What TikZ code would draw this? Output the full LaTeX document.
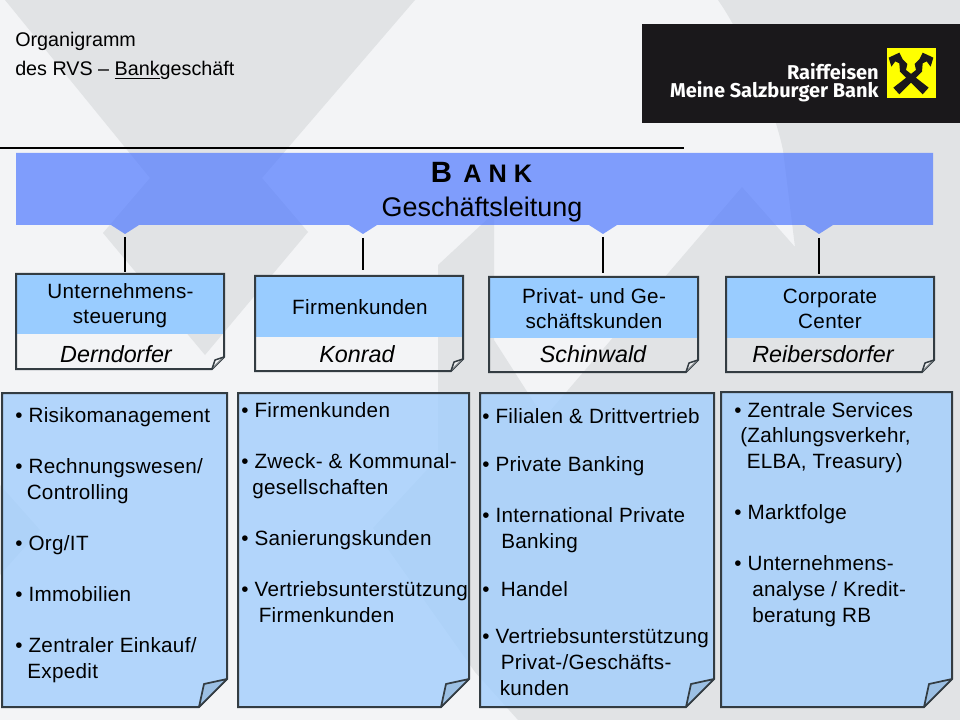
\documentclass[tikz,border=0pt]{standalone}
\usepackage{fontspec}
\setmainfont{Liberation Sans}
\newfontfamily\spacedsans[LetterSpace=1.5]{Liberation Sans}
\newfontfamily\logofont{Fira Sans}
\usetikzlibrary{fit}
\definecolor{bglight}{HTML}{F3F4F6}
\definecolor{bggrey}{HTML}{E1E3E5}
\definecolor{bannerblue}{HTML}{4F79FF}
\definecolor{headblue}{HTML}{99CCFF}
\definecolor{listblue}{HTML}{A2CEFD}
\definecolor{edgecol}{HTML}{333C42}
\definecolor{foldblue}{HTML}{9CC0E4}
\definecolor{logoblack}{HTML}{1A181B}
\definecolor{logoyellow}{HTML}{FFFF00}
\tikzset{
  bgshape/.style={fill=bggrey,draw=none},
  boxedge/.style={draw=edgecol,line width=1.5pt,line join=miter},
  bodyline/.style={anchor=base west,inner sep=0pt,font=\spacedsans\fontsize{15.5}{18}\selectfont,text=black},
  headline/.style={anchor=base,inner sep=0pt,font=\spacedsans\fontsize{15.5}{18}\selectfont,text=black},
  nameline/.style={anchor=base,inner sep=0pt,font=\itshape\fontsize{17.5}{20}\selectfont,text=black},
  conn/.style={draw=black,line width=1.5pt},
  logotext/.style={anchor=base east,inner sep=0pt,text=white,font=\logofont\bfseries\fontsize{15}{18}\selectfont},
  pagetext/.style={anchor=base west,inner sep=0pt,font=\fontsize{14.8}{18}\selectfont,text=black}
}
\newcounter{tl}
\newcommand{\bodytext}[3]{\stepcounter{tl}\node[bodyline] (L\arabic{tl}) at (#1,#2) {#3};}
\newcommand{\headtext}[3]{\stepcounter{tl}\node[headline] (L\arabic{tl}) at (#1,#2) {#3};}
\newcommand{\nametext}[3]{\stepcounter{tl}\node[nameline] (L\arabic{tl}) at (#1,#2) {#3};}
% name x0 y0 x1 y1 ysplit
\newcommand{\headbox}[6]{%
  \fill[headblue] (#2,#3) rectangle (#4,#6);
  \coordinate (#1nw) at (#2,#3); \coordinate (#1se) at (#4,#5);
  \node[fit=(#1nw)(#1se),inner sep=0pt] (#1) {};
  \draw[boxedge] (#2,#3) -- (#4,#3) -- (#4,#5-12) -- (#4-12,#5) -- (#2,#5) -- cycle;
  \draw[draw=edgecol,line width=1.1pt,fill=white,fill opacity=.45,line join=round] (#4,#5-12) -- (#4-9,#5-9) -- (#4-12,#5);
}
% name x0 y0 x1 y1
\newcommand{\listbox}[5]{%
  \coordinate (#1nw) at (#2,#3); \coordinate (#1se) at (#4,#5);
  \node[fit=(#1nw)(#1se),inner sep=0pt] (#1) {};
  \fill[listblue,fill opacity=.8] (#2,#3) -- (#4,#3) -- (#4,#5-28) -- (#4-28,#5) -- (#2,#5) -- cycle;
  \draw[boxedge] (#2,#3) -- (#4,#3) -- (#4,#5-28) -- (#4-28,#5) -- (#2,#5) -- cycle;
  \draw[draw=edgecol,line width=1.3pt,fill=foldblue,line join=round] (#4,#5-28) -- (#4-23,#5-23) -- (#4-28,#5) -- cycle;
}
\begin{document}
\begin{tikzpicture}[x=0.75pt,y=-0.75pt]
\useasboundingbox (0,0) rectangle (960,720);
% background
\fill[bglight] (0,0) rectangle (960,720);
\fill[bgshape] (5,0) -- (150,178) -- (103,233) -- (205,355) -- (308,232) -- (262,178) -- (415,0) -- cycle;
\fill[bgshape] (0,485) -- (40,530) -- (0,575) -- cycle;
\fill[bgshape] (718,0) .. controls (735,24) and (770,90) .. (783,150) -- (795,247) -- (742,187)
  -- (544,418) -- (494,340) -- (494,213) -- (438,265) -- (438,458) -- (373,528) -- (475,672) -- (518,720)
  -- (960,720) -- (960,0) -- cycle;
% logo
\fill[logoblack] (642,24) rectangle (960,123);
\node[logotext] (logoa) at (879,80) {Raiffeisen};
\node[logotext] (logob) at (879,98) {Meine Salzburger Bank};
\fill[logoyellow] (887,48) rectangle (936,98.5);
\begin{scope}[shift={(880,42)},x=0.25pt,y=-0.25pt]
  \fill[logoblack] (40,137) -- (58,157) -- (126,89) -- (128,64) -- (140,58) -- (152,74) -- (160,47) -- (128,32)
    -- (118,52) -- (104,66) -- (108,84) -- cycle;
  \fill[logoblack] (146,137) -- (128,157) -- (60,89) -- (58,64) -- (46,58) -- (34,74) -- (26,47) -- (58,32)
    -- (68,52) -- (82,66) -- (78,84) -- cycle;
\end{scope}
% page heading
\node[pagetext] (orga) at (15,46.5) {Organigramm};
\node[pagetext] (orgb) at (15,76) {des RVS -- \underline{Bank}geschäft};
\coordinate (rulea) at (0,147.8);
\coordinate (ruleb) at (684,147.8);
\draw[line width=1.9pt,draw=black] (rulea) -- (ruleb);
% banner
\coordinate (tipa) at (125,234);
\coordinate (tipb) at (363,234);
\coordinate (tipc) at (603,234);
\coordinate (tipd) at (819,234);
\fill[bannerblue,fill opacity=.7] (16,153) -- (933,153) -- (933,225)
  -- (833,225) -- (tipd) -- (805,225)
  -- (617,225) -- (tipc) -- (589,225)
  -- (377,225) -- (tipb) -- (349,225)
  -- (139,225) -- (tipa) -- (111,225)
  -- (16,225) -- cycle;
\node[anchor=base west,inner sep=0pt,font=\bfseries\fontsize{22}{24}\selectfont] (titleb) at (430.5,183) {B};
\node[anchor=base west,inner sep=0pt,font=\bfseries\fontsize{19}{20}\selectfont] (titlea) at (463,183) {A N K};
\node[anchor=base,inner sep=0pt,font=\fontsize{20.2}{24}\selectfont] (titlec) at (482,216.5) {Geschäftsleitung};
% header boxes
\headbox{ha}{16}{274}{224}{369}{334}
\headbox{hb}{255}{276}{463}{371}{337}
\headbox{hc}{489}{277}{698}{372}{338}
\headbox{hd}{726}{277}{934}{372}{338}
% connectors
\draw[conn,shorten <=2.25pt,shorten >=1.5pt] (tipa) -- (tipa |- ha.north);
\draw[conn,shorten <=3pt,shorten >=4.5pt] (tipb) -- (tipb |- hb.north);
\draw[conn,shorten <=2.25pt,shorten >=3pt] (tipc) -- (tipc |- hc.north);
\draw[conn,shorten <=3pt,shorten >=2.25pt] (tipd) -- (tipd |- hd.north);
% header text
\headtext{120.5}{299}{Unternehmens-}
\headtext{120}{324}{steuerung}
\nametext{116}{362}{Derndorfer}
\headtext{360}{315}{Firmenkunden}
\nametext{357}{362}{Konrad}
\headtext{594}{303}{Privat- und Ge-}
\headtext{594}{328}{schäftskunden}
\nametext{593}{362}{Schinwald}
\headtext{830}{303}{Corporate}
\headtext{830}{328}{Center}
\nametext{823}{362}{Reibersdorfer}
% list boxes
\listbox{ba}{2}{393}{227}{707}
\listbox{bb}{238}{393}{469}{707}
\listbox{bc}{480}{393}{714}{707}
\listbox{bd}{721}{392}{952}{707}
\bodytext{15}{422}{• Risikomanagement}
\bodytext{15}{473}{• Rechnungswesen/}
\bodytext{26.5}{499}{Controlling}
\bodytext{15}{550}{• Org/IT}
\bodytext{15}{601}{• Immobilien}
\bodytext{15}{652}{• Zentraler Einkauf/}
\bodytext{27}{678}{Expedit}
\bodytext{241}{417}{• Firmenkunden}
\bodytext{241}{468}{• Zweck- \& Kommunal-}
\bodytext{252}{494}{gesellschaften}
\bodytext{241}{545}{• Sanierungskunden}
\bodytext{241}{596}{• Vertriebsunterstützung}
\bodytext{258.5}{622}{Firmenkunden}
\bodytext{482}{423}{• Filialen \& Drittvertrieb}
\bodytext{482}{471}{• Private Banking}
\bodytext{482}{522}{• International Private}
\bodytext{501}{548}{Banking}
\bodytext{482}{596}{•\hspace{8.5pt}Handel}
\bodytext{482}{643.5}{• Vertriebsunterstützung}
\bodytext{500.5}{669}{Privat-/Geschäfts-}
\bodytext{499.5}{695}{kunden}
\bodytext{734}{417}{• Zentrale Services}
\bodytext{740}{442}{(Zahlungsverkehr,}
\bodytext{746.5}{468}{ELBA, Treasury)}
\bodytext{734}{519}{• Marktfolge}
\bodytext{734}{570}{• Unternehmens-}
\bodytext{752}{596}{analyse / Kredit-}
\bodytext{752}{622}{beratung RB}
\end{tikzpicture}
\end{document}
